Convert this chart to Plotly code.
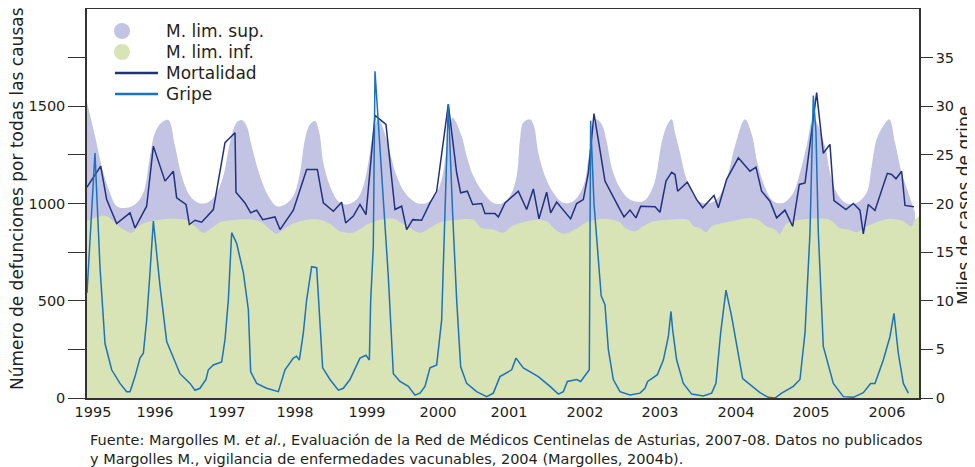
import plotly.graph_objects as go

# ---------------- data (x = month index on the chart's time axis) ----------------
year_labels = ["1995", "1996", "1997", "1998", "1999", "2000", "2001",
               "2002", "2003", "2004", "2005", "2006"]
year_pos = [1.0, 11.33, 23.33, 34.67, 46.67, 58.5, 70.33, 83.0, 95.5, 108.17, 120.67, 133.33]

# Upper limit (M. lim. sup.), deaths
up_m = [0, 1.33, 2.72, 3.83, 4.94, 6.61, 8.0, 9.39, 10.5, 11.33, 12.44, 13.56, 14.67, 15.78, 17.17,
        18.56, 19.94, 21.33, 22.72, 23.83, 24.94, 25.78, 26.61, 27.44, 28.83, 30.22, 31.61, 33.0,
        34.39, 35.5, 36.33, 37.17, 38.0, 38.72, 39.39, 40.5, 41.89, 43.28, 44.94, 46.06, 46.89,
        47.72, 48.56, 49.94, 50.78, 51.61, 53.0, 54.94, 56.61, 58.0, 59.11, 59.94, 60.94, 62.44,
        63.28, 64.39, 66.06, 67.72, 69.11, 70.5, 71.61, 72.17, 72.72, 73.83, 74.5, 75.22, 76.33,
        77.72, 79.39, 81.06, 82.72, 83.56, 84.39, 84.94, 85.78, 86.61, 87.44, 88.83, 90.5, 92.72,
        94.39, 95.78, 96.61, 97.44, 98.0, 98.83, 99.94, 101.61, 103.28, 104.94, 106.61, 108.0,
        109.67, 110.78, 111.61, 112.72, 114.39, 116.06, 117.72, 118.83, 119.94, 121.06, 123.0,
        123.83, 124.94, 126.61, 128.28, 129.94, 130.78, 131.61, 132.72, 133.72, 134.67, 135.78,
        136.89, 138.0]
up_v = [1519, 1347, 1158, 1055, 986, 978, 995, 1055, 1244, 1364, 1416, 1429, 1295, 1141, 1038,
        1003, 1003, 1038, 1141, 1313, 1416, 1429, 1398, 1295, 1141, 1038, 986, 995, 1038, 1158,
        1330, 1407, 1424, 1364, 1209, 1089, 1012, 995, 1020, 1089, 1209, 1364, 1433, 1330, 1227,
        1141, 1055, 1003, 1003, 1038, 1124, 1278, 1441, 1347, 1244, 1141, 1055, 1003, 1000, 1038,
        1141, 1330, 1416, 1433, 1398, 1261, 1141, 1055, 1003, 1012, 1089, 1227, 1398, 1433, 1407,
        1320, 1185, 1080, 1020, 1012, 1089, 1313, 1398, 1433, 1364, 1261, 1124, 1020, 1000, 1020,
        1124, 1295, 1433, 1357, 1227, 1106, 1012, 1003, 1055, 1158, 1295, 1440, 1295, 1158, 1055,
        1000, 1003, 1055, 1192, 1330, 1398, 1433, 1313, 1158, 1055, 952]

# Lower limit (M. lim. inf.), deaths
lo_m = [0, 2.17, 3.28, 4.39, 6.06, 7.44, 8.56, 9.94, 12.17, 14.39, 16.61, 18.0, 19.39, 20.78,
        22.17, 24.94, 27.72, 29.11, 30.5, 31.61, 32.72, 34.39, 36.61, 38.83, 40.5, 42.17, 44.17,
        45.83, 46.61, 48.83, 51.06, 52.44, 53.83, 55.5, 57.17, 58.83, 61.61, 64.39, 65.78, 67.72,
        69.39, 70.78, 72.72, 75.5, 76.89, 77.72, 79.39, 81.33, 83.28, 86.06, 88.83, 89.67, 91.33,
        92.72, 94.39, 97.17, 100.22, 101.06, 102.17, 103.17, 104.11, 106.61, 110.5, 111.89,
        113.28, 114.67, 115.5, 116.61, 118.83, 123.28, 124.39, 125.39, 126.89, 128.28, 129.94,
        131.61, 133.83, 136.06, 137.44, 138.0, 138.67]
lo_v = [910, 935, 935, 909, 866, 849, 883, 904, 917, 921, 914, 883, 849, 874, 904, 917, 917, 904,
        866, 844, 866, 897, 917, 917, 895, 857, 849, 874, 892, 917, 922, 900, 874, 849, 874, 904,
        917, 917, 874, 866, 849, 883, 904, 917, 904, 874, 844, 866, 904, 921, 904, 874, 857, 883,
        909, 917, 917, 883, 874, 852, 883, 904, 926, 917, 883, 866, 844, 897, 917, 921, 904, 874,
        866, 852, 883, 904, 921, 909, 883, 917, 935]

# Mortalidad (all-cause deaths)
mort_m = [0, 2.28, 3.28, 4.94, 7.17, 8.0, 9.94, 11.06, 13.0, 14.39, 14.94, 16.5, 17.06, 18.0,
          19.11, 21.06, 23.0, 24.67, 24.83, 26.33, 27.28, 28.28, 29.28, 31.33, 32.17, 34.39,
          36.61, 38.39, 39.39, 41.06, 42.44, 43.11, 44.39, 45.5, 46.5, 48.0, 49.83, 51.33, 52.44,
          53.28, 54.28, 55.78, 57.17, 58.28, 60.22, 61.61, 62.28, 63.39, 64.28, 65.78, 66.33,
          68.0, 68.56, 69.67, 71.89, 73.28, 74.39, 75.33, 76.61, 77.28, 78.28, 80.61, 81.61,
          82.72, 83.56, 84.5, 85.39, 86.33, 88.83, 89.5, 90.5, 91.5, 92.28, 94.67, 95.5, 96.5,
          97.44, 98.0, 98.44, 100.06, 101.61, 102.61, 104.5, 105.22, 106.61, 108.56, 110.5,
          111.5, 112.44, 113.83, 114.94, 116.33, 117.61, 118.72, 119.67, 120.78, 121.61, 122.72,
          123.83, 124.5, 126.5, 127.72, 128.83, 129.39, 130.22, 131.33, 133.39, 134.11, 134.83,
          135.78, 136.33, 137.83]
mort_v = [1084, 1192, 1020, 897, 952, 874, 986, 1295, 1115, 1166, 1029, 995, 892, 914, 904, 969,
          1313, 1364, 1058, 1003, 952, 966, 917, 931, 866, 966, 1175, 1175, 1003, 960, 1007, 900,
          935, 995, 943, 1453, 1407, 969, 986, 866, 917, 914, 1003, 1063, 1510, 1158, 1055, 1063,
          995, 1000, 948, 948, 931, 1003, 1063, 969, 1075, 921, 1058, 952, 1007, 921, 1000, 1020,
          1158, 1462, 1295, 1115, 969, 931, 966, 926, 986, 983, 955, 1115, 1161, 1149, 1063, 1110,
          1020, 978, 1041, 978, 1124, 1235, 1166, 1187, 1063, 1012, 926, 966, 883, 1098, 1106,
          1381, 1570, 1258, 1304, 1015, 969, 1000, 966, 844, 995, 964, 1155, 1149, 1127, 1166,
          990, 983]

# Gripe (thousands of flu cases)
gripe_m = [0, 1.33, 2.17, 3.0, 4.11, 5.5, 6.61, 7.17, 8.0, 8.83, 9.39, 9.94, 10.5, 11.06, 12.17,
           13.28, 15.5, 17.17, 18.0, 18.83, 19.83, 20.22, 21.06, 22.44, 23.0, 23.56, 24.11, 24.94,
           26.06, 26.89, 27.28, 28.28, 29.94, 31.89, 33.0, 34.39, 34.94, 35.39, 36.06, 36.61,
           37.44, 38.28, 39.28, 40.5, 41.89, 42.72, 43.83, 45.5, 46.5, 47.06, 47.28, 47.72, 48.0,
           48.56, 49.39, 50.22, 51.06, 52.17, 53.56, 54.67, 55.5, 56.33, 57.17, 58.28, 59.11,
           59.67, 60.22, 60.94, 61.61, 62.28, 63.28, 64.94, 66.61, 67.72, 68.83, 70.78, 71.5,
           72.72, 75.22, 77.17, 78.56, 79.39, 80.06, 81.61, 82.28, 83.72, 83.94, 84.5, 85.7,
           86.33, 86.89, 87.72, 88.83, 90.5, 92.17, 93.0, 93.44, 95.06, 96.06, 96.89, 97.33,
           97.61, 98.28, 99.39, 100.78, 102.72, 104.11, 104.83, 105.61, 106.5, 107.44, 109.28,
           110.78, 112.17, 113.56, 114.67, 115.78, 117.72, 118.83, 119.67, 120.5, 121.06, 121.5,
           121.89, 122.72, 124.39, 126.06, 127.72, 129.39, 130.61, 131.33, 132.72, 133.83, 134.5,
           135.22, 136.06, 136.89]
gripe_v = [10.8, 25.2, 13.4, 5.6, 2.9, 1.5, 0.65, 0.65, 2.2, 4.1, 4.6, 8.0, 12.9, 18.2, 11.5, 5.8,
           2.5, 1.5, 0.8, 1.0, 1.9, 2.9, 3.4, 3.7, 6.0, 10.1, 17.0, 15.9, 12.9, 9.1, 2.7, 1.5, 1.0,
           0.65, 2.9, 4.1, 4.3, 3.9, 6.7, 10.1, 13.5, 13.4, 3.1, 1.9, 0.8, 1.0, 1.9, 4.1, 4.4, 3.9,
           10.0, 15.6, 33.6, 28.0, 20.8, 12.5, 2.5, 1.7, 1.2, 0.3, 0.5, 1.2, 3.1, 3.4, 8.0, 19.0,
           30.2, 19.0, 10.1, 3.2, 1.5, 0.65, 0.14, 0.5, 2.2, 2.9, 4.1, 3.1, 2.2, 1.2, 0.4, 0.65,
           1.7, 1.9, 1.7, 2.9, 28.5, 20.0, 10.5, 9.6, 5.0, 1.9, 0.65, 0.3, 0.5, 1.0, 1.7, 2.4, 3.9,
           6.3, 8.9, 7.0, 3.9, 1.5, 0.4, 0.2, 0.5, 1.5, 6.7, 11.1, 8.4, 2.0, 1.2, 0.55, 0.07, 0.0,
           0.5, 1.2, 1.9, 6.7, 17.0, 31.1, 27.3, 17.0, 5.3, 1.5, 0.14, 0.07, 0.55, 1.5, 1.5, 3.9,
           6.3, 8.7, 4.6, 1.5, 0.5]

legend_labels = ["M. lim. sup.", "M. lim. inf.", "Mortalidad", "Gripe"]

# ---------------- style ----------------
PURPLE = "#c3c3e3"
GREEN = "#d8e4b6"
NAVY = "#22317f"
BLUE = "#1b72bd"
TXT = "#231f20"
AX = "#333333"
FONT = "DejaVu Sans"

# the page body adds an 8 px margin, so the figure is drawn 8 px smaller
OFF = 8
W, H = 975 - OFF, 467 - OFF
L, R, T, B = 87 - OFF, 56, 9 - OFF, 69
PW, PH = W - L - R, H - T - B


def px_x(px):
    # px given in target-picture coordinates
    return (px - OFF - L) / PW


def px_y(py):
    return (H - B - (py - OFF)) / PH


fig = go.Figure()
fig.add_trace(go.Scatter(x=up_m, y=up_v, mode="lines", fill="tozeroy", fillcolor=PURPLE,
                         line=dict(width=0, color=PURPLE, shape="spline", smoothing=1.0),
                         showlegend=False, hoverinfo="skip"))
fig.add_trace(go.Scatter(x=lo_m, y=lo_v, mode="lines", fill="tozeroy", fillcolor=GREEN,
                         line=dict(width=0, color=GREEN, shape="spline", smoothing=0.8),
                         showlegend=False, hoverinfo="skip"))
fig.add_trace(go.Scatter(x=mort_m, y=mort_v, mode="lines", name="Mortalidad",
                         line=dict(color=NAVY, width=1.5), showlegend=False))
fig.add_trace(go.Scatter(x=gripe_m, y=gripe_v, mode="lines", name="Gripe", yaxis="y2",
                         line=dict(color=BLUE, width=1.5), showlegend=False))

# ---- manual legend ----
shapes = []
annotations = []
row_y = [31, 52, 73, 94]
for i, (lab, col) in enumerate(zip(legend_labels, [PURPLE, GREEN, NAVY, BLUE])):
    y = row_y[i]
    if i < 2:
        shapes.append(dict(type="circle", xref="paper", yref="paper",
                           x0=px_x(114), x1=px_x(130), y0=px_y(y + 8), y1=px_y(y - 8),
                           fillcolor=col, line=dict(width=0)))
    else:
        shapes.append(dict(type="line", xref="paper", yref="paper",
                           x0=px_x(115), x1=px_x(158), y0=px_y(y), y1=px_y(y),
                           line=dict(color=col, width=2.5)))
    annotations.append(dict(text=lab, xref="paper", yref="paper", x=px_x(164), y=px_y(y),
                            xanchor="left", yanchor="middle", showarrow=False,
                            font=dict(family=FONT, size=17, color=TXT)))

# axis titles
annotations.append(dict(text="Número de defunciones por todas las causas", xref="paper",
                        yref="paper", x=px_x(17), y=px_y(199), textangle=-90, showarrow=False,
                        xanchor="center", yanchor="middle",
                        font=dict(family=FONT, size=17, color=TXT)))
annotations.append(dict(text="Miles de casos de gripe", xref="paper", yref="paper",
                        x=px_x(964), y=px_y(206), textangle=-90, showarrow=False,
                        xanchor="center", yanchor="middle",
                        font=dict(family=FONT, size=17, color=TXT)))
# source note
annotations.append(dict(text="Fuente: Margolles M. <i>et al.</i>, Evaluación de la Red de Médicos "
                             "Centinelas de Asturias, 2007-08. Datos no publicados",
                        xref="paper", yref="paper", x=px_x(88), y=px_y(440), showarrow=False,
                        xanchor="left", yanchor="middle",
                        font=dict(family=FONT, size=14.5, color=TXT)))
annotations.append(dict(text="y Margolles M., vigilancia de enfermedades vacunables, 2004 "
                             "(Margolles, 2004b).",
                        xref="paper", yref="paper", x=px_x(88), y=px_y(459), showarrow=False,
                        xanchor="left", yanchor="middle",
                        font=dict(family=FONT, size=14.5, color=TXT)))

fig.update_layout(
    width=W, height=H,
    margin=dict(l=L, r=R, t=T, b=B, pad=0, autoexpand=False),
    paper_bgcolor="white", plot_bgcolor="white",
    showlegend=False,
    font=dict(family=FONT, size=14.5, color=TXT),
    xaxis=dict(range=[0, 138.67], tickvals=year_pos, ticktext=year_labels, ticks="",
               showline=True, linecolor=AX, linewidth=1.5, mirror=True, showgrid=False,
               zeroline=False, automargin=False,
               tickfont=dict(family=FONT, size=14.5, color=TXT)),
    yaxis=dict(range=[0, 2000], tickvals=[0, 500, 1000, 1500], ticks="outside", ticklen=17,
               tickcolor=AX, tickwidth=1.2, showline=True, linecolor=AX, linewidth=1.5,
               showgrid=False, zeroline=False, automargin=False,
               minor=dict(tickvals=[250, 750, 1250, 1750], ticks="outside", ticklen=17,
                          tickcolor=AX, tickwidth=1.2, showgrid=False),
               tickfont=dict(family=FONT, size=14.5, color=TXT)),
    yaxis2=dict(range=[0, 40], overlaying="y", side="right",
                tickvals=[0, 5, 10, 15, 20, 25, 30, 35], ticks="outside", ticklen=12,
                tickcolor=AX, tickwidth=1.2, showline=True, linecolor=AX, linewidth=1.5,
                showgrid=False, zeroline=False, automargin=False,
                tickfont=dict(family=FONT, size=14.5, color=TXT)),
    shapes=shapes,
    annotations=annotations,
)

fig.write_html("out.html")
